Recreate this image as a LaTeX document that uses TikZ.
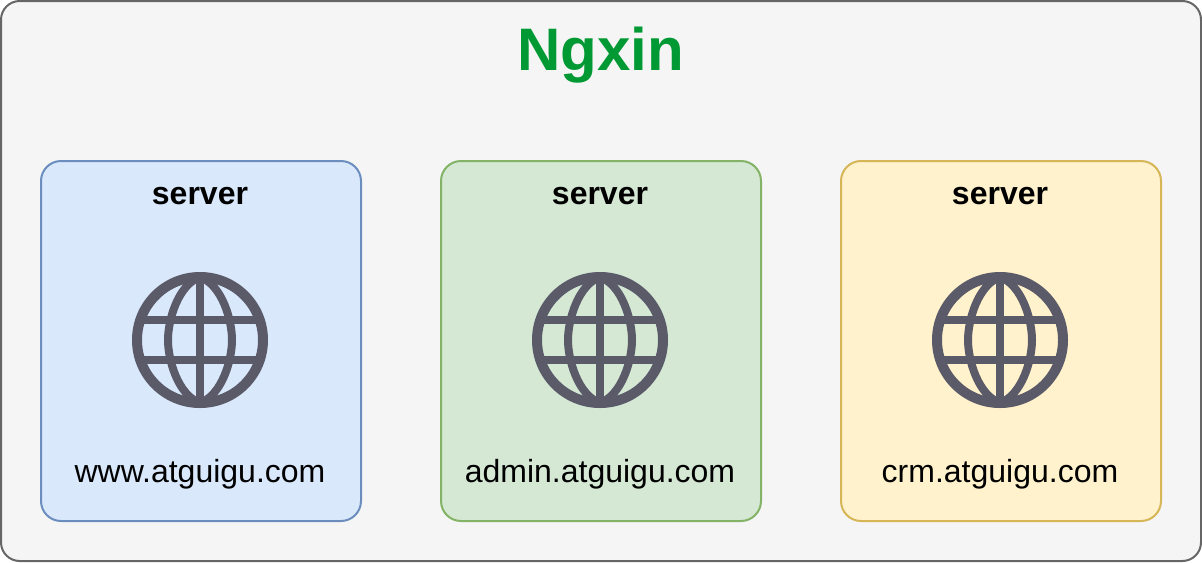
\documentclass[tikz,border=0pt]{standalone}
\usepackage{fontspec}
\setmainfont{Liberation Sans}
\definecolor{outerfill}{HTML}{F5F5F5}
\definecolor{outerline}{HTML}{666666}
\definecolor{bluefill}{HTML}{DAE8FC}
\definecolor{blueline}{HTML}{6C8EBF}
\definecolor{greenfill}{HTML}{D5E8D4}
\definecolor{greenline}{HTML}{82B366}
\definecolor{yellowfill}{HTML}{FFF2CC}
\definecolor{yellowline}{HTML}{D6B656}
\definecolor{ngxingreen}{HTML}{009933}
\definecolor{globegray}{HTML}{5A5A69}
\tikzset{
    outerbox/.style={draw=outerline,fill=outerfill,line width=1.5pt,rounded corners=14pt,minimum width=900pt,minimum height=420pt,inner sep=0pt},
    serverbox/.style={line width=1.5pt,rounded corners=15pt,minimum width=240pt,minimum height=270pt,inner sep=0pt},
    servertitle/.style={font=\bfseries\fontsize{24}{28}\selectfont,anchor=base,inner sep=0pt},
    siteurl/.style={font=\fontsize{24}{28}\selectfont,anchor=base,inner sep=0pt},
    globe/.pic={
        \draw[globegray,line width=7.5pt] (0,0) circle (63);
        % meridians, a little pointed at the poles
        \draw[globegray,line width=6pt] (0,-63) .. controls (-22,-55) and (-32,-20) .. (-32,0) .. controls (-32,20) and (-22,55) .. (0,63);
        \draw[globegray,line width=6pt] (0,-63) .. controls (22,-55) and (32,-20) .. (32,0) .. controls (32,20) and (22,55) .. (0,63);
        \draw[globegray,line width=6pt] (0,-63) -- (0,63);
        \draw[globegray,line width=6pt] (-60,-20) -- (60,-20);
        \draw[globegray,line width=6pt] (-60,20) -- (60,20);
    }
}
\begin{document}
\begin{tikzpicture}[x=0.75pt,y=-0.75pt]
    \useasboundingbox (0,0) rectangle (1202,562);

    % Outer frame
    \node[outerbox] (nginx) at (601,281) {};
    \node[font=\bfseries\fontsize{45}{50}\selectfont,text=ngxingreen,anchor=base,inner sep=0pt] (nginxtitle) at (600.5,70) {Ngxin};

    % Server boxes
    \foreach \name/\cx/\fillcol/\linecol/\url in {
        www/201/bluefill/blueline/www.atguigu.com,
        admin/601/greenfill/greenline/admin.atguigu.com,
        crm/1001/yellowfill/yellowline/crm.atguigu.com}
    {
        \node[serverbox,fill=\fillcol,draw=\linecol] (\name box) at (\cx,341) {};
        \node[servertitle] (\name title) at (\cx-1,204) {server};
        \pic at (\cx-1,340) {globe};
        \node[siteurl] (\name url) at (\cx-1,482) {\url};
    }
\end{tikzpicture}
\end{document}
